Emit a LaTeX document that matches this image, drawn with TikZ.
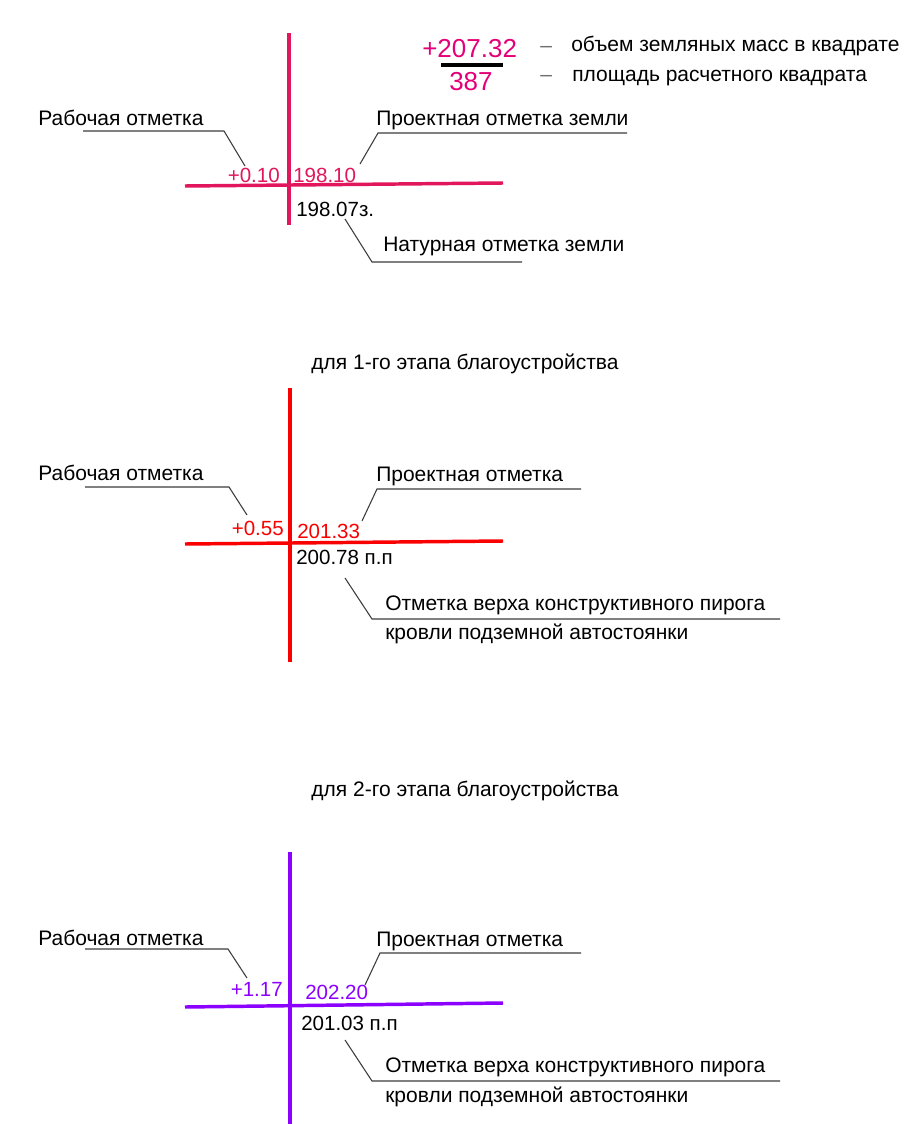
\documentclass[tikz,border=0pt]{standalone}
\usepackage{fontspec}
\setmainfont{Liberation Sans}
\definecolor{cA}{RGB}{226,22,92}
\definecolor{cAm}{RGB}{228,0,120}
\definecolor{cB}{RGB}{250,0,0}
\definecolor{cC}{RGB}{140,0,255}
\definecolor{leadgray}{RGB}{60,60,60}
\definecolor{dashgray}{RGB}{110,110,110}
\begin{document}
\begin{tikzpicture}[x=0.75pt,y=-0.75pt,
  lbl/.style={font=\fontsize{15.75}{18}\selectfont, inner sep=0pt, anchor=base west},
  num/.style={font=\fontsize{15.4}{18}\selectfont, inner sep=0pt},
  big/.style={font=\fontsize{19.5}{22}\selectfont, inner sep=0pt, anchor=base west, text=cAm},
  leader/.style={draw=leadgray, line width=0.8pt},
  axisline/.style={line width=2.3pt},
  hline/.style={line width=2.6pt},
]
\useasboundingbox[fill=white] (0,0) rectangle (908,1124);

% ---------------- Panel 1 ----------------
\node[big] (vol) at (422,58) {+207.32};
\node[big] (area) at (449,90) {387};
\coordinate (barL) at (441,65);
\coordinate (barR) at (503,65);
\draw[line width=3pt, black] (barL) -- (barR);
\node[lbl, text=dashgray] (d1) at (540,53) {–};
\node[lbl, text=dashgray] (d2) at (540,82) {–};
\node[lbl] (legvol) at (571,52) {объем земляных масс в квадрате};
\node[lbl] (legarea) at (572,81) {площадь расчетного квадрата};

\coordinate (v1t) at (289,33);
\coordinate (v1b) at (289,225);
\coordinate (h1l) at (185,186);
\coordinate (h1r) at (503,183);
\draw[axisline, cA] (v1t) -- (v1b);
\draw[hline, cA] (h1l) -- (h1r);

\node[num, anchor=base east, text=cA] (w1) at (280,182) {+0.10};
\node[num, anchor=base west, text=cA] (p1) at (293,182) {198.10};
\node[num, anchor=base west] (n1) at (296,216) {198.07з.};

\node[lbl] (rab1) at (38,125) {Рабочая отметка};
\node[lbl] (proj1) at (376,125) {Проектная отметка земли};
\node[lbl] (nat1) at (383,251) {Натурная отметка земли};

\coordinate (rab1a) at (83,131);
\coordinate (rab1b) at (224,131);
\coordinate (rab1c) at (245,166);
\draw[leader] (rab1a) -- (rab1b) -- (rab1c);
\coordinate (proj1a) at (627,133);
\coordinate (proj1b) at (378,133);
\coordinate (proj1c) at (360,164);
\draw[leader] (proj1a) -- (proj1b) -- (proj1c);
\coordinate (nat1a) at (345,219);
\coordinate (nat1b) at (372,262);
\coordinate (nat1c) at (522,262);
\draw[leader] (nat1a) -- (nat1b) -- (nat1c);

% ---------------- Panel 2 ----------------
\node[lbl, anchor=base] (t1) at (465,369) {для 1-го этапа благоустройства};
\coordinate (v2t) at (290,388);
\coordinate (v2b) at (290,662);
\coordinate (h2l) at (185,544);
\coordinate (h2r) at (503,541);
\draw[axisline, cB] (v2t) -- (v2b);
\draw[hline, cB] (h2l) -- (h2r);

\node[num, anchor=base east, text=cB] (w2) at (284,535) {+0.55};
\node[num, anchor=base west, text=cB] (p2) at (297,538) {201.33};
\node[num, anchor=base west] (n2) at (296,564) {200.78 п.п};

\node[lbl] (rab2) at (38,480) {Рабочая отметка};
\node[lbl] (proj2) at (376,481) {Проектная отметка};
\node[lbl] (top2) at (385,610) {Отметка верха конструктивного пирога};
\node[lbl] (roof2) at (385,639) {кровли подземной автостоянки};

\coordinate (rab2a) at (85,487);
\coordinate (rab2b) at (229,487);
\coordinate (rab2c) at (247,515);
\draw[leader] (rab2a) -- (rab2b) -- (rab2c);
\coordinate (proj2a) at (581,489);
\coordinate (proj2b) at (377,489);
\coordinate (proj2c) at (362,521);
\draw[leader] (proj2a) -- (proj2b) -- (proj2c);
\coordinate (top2a) at (345,578);
\coordinate (top2b) at (372,619);
\coordinate (top2c) at (780,619);
\draw[leader] (top2a) -- (top2b) -- (top2c);

% ---------------- Panel 3 ----------------
\node[lbl, anchor=base] (t2) at (465,796) {для 2-го этапа благоустройства};
\coordinate (v3t) at (290,852);
\coordinate (v3b) at (290,1124);
\coordinate (h3l) at (185,1007);
\coordinate (h3r) at (503,1003);
\draw[axisline, cC] (v3t) -- (v3b);
\draw[hline, cC] (h3l) -- (h3r);

\node[num, anchor=base east, text=cC] (w3) at (283,996) {+1.17};
\node[num, anchor=base west, text=cC] (p3) at (305,999) {202.20};
\node[num, anchor=base west] (n3) at (301,1030) {201.03 п.п};

\node[lbl] (rab3) at (38,945) {Рабочая отметка};
\node[lbl] (proj3) at (376,946) {Проектная отметка};
\node[lbl] (top3) at (385,1072) {Отметка верха конструктивного пирога};
\node[lbl] (roof3) at (385,1102) {кровли подземной автостоянки};

\coordinate (rab3a) at (85,949);
\coordinate (rab3b) at (228,949);
\coordinate (rab3c) at (247,978);
\draw[leader] (rab3a) -- (rab3b) -- (rab3c);
\coordinate (proj3a) at (581,953);
\coordinate (proj3b) at (380,953);
\coordinate (proj3c) at (365,985);
\draw[leader] (proj3a) -- (proj3b) -- (proj3c);
\coordinate (top3a) at (345,1040);
\coordinate (top3b) at (372,1081);
\coordinate (top3c) at (780,1081);
\draw[leader] (top3a) -- (top3b) -- (top3c);
\end{tikzpicture}
\end{document}
